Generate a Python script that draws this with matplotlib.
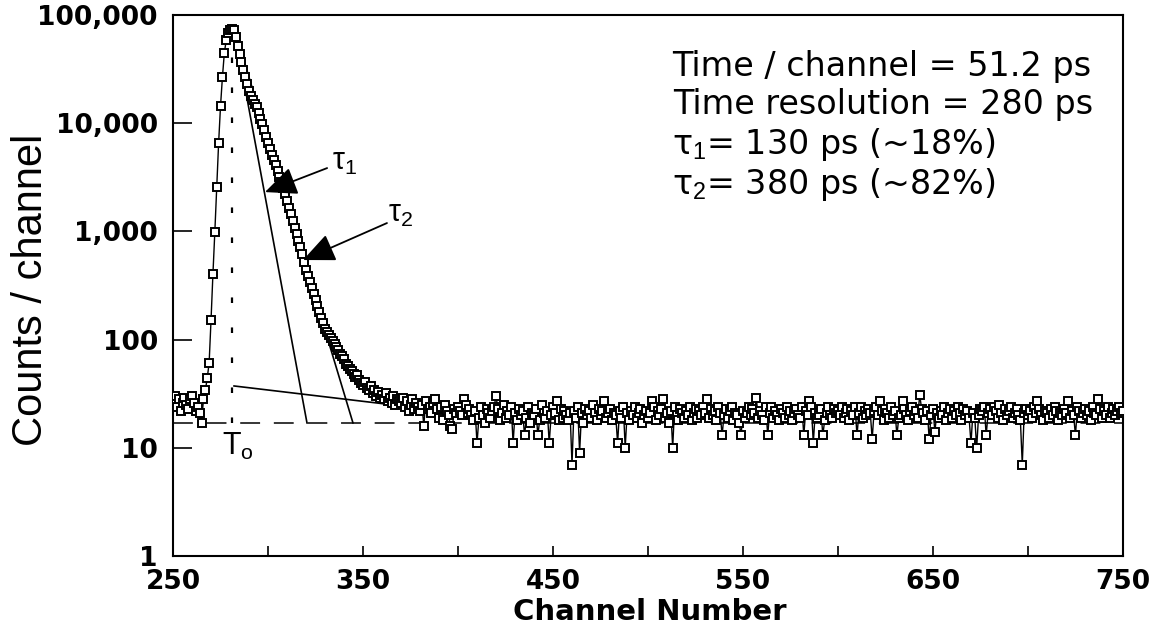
"""Positron lifetime spectrum: counts per channel vs channel number (log scale)"""
import numpy as np
import matplotlib
matplotlib.use('Agg')
import matplotlib.pyplot as plt

plt.rcParams['mathtext.fontset'] = 'custom'
plt.rcParams['mathtext.rm'] = 'Liberation Sans'
plt.rcParams['mathtext.it'] = 'Liberation Sans:italic'


#############################################
# DATA
#############################################

first_channel = 250
counts = [
    27, 30, 24, 28, 22, 26, 29, 25, 23, 28,                      # 250
    30, 26, 22, 24, 21, 17, 28, 34, 44, 61,                      # 260
    152, 405, 990, 2560, 6600, 14500, 26700, 44600, 58700, 68000,  # 270
    73000, 75000, 72000, 62000, 52000, 44000, 37000, 31000, 27000, 23000,  # 280
    20000, 18000, 16500, 15000, 14000, 12500, 11000, 9800, 8600, 7500,  # 290
    6600, 5800, 5100, 4600, 4100, 3600, 3200, 2850, 2500, 2200,  # 300
    1900, 1650, 1450, 1250, 1080, 940, 820, 720, 620, 520,       # 310
    440, 385, 340, 300, 265, 232, 205, 180, 160, 142,            # 320
    125, 118, 110, 104, 98, 92, 86, 80, 74, 70,                  # 330
    66, 60, 57, 54, 51, 48, 45, 47, 42, 40,                      # 340
    38, 41, 36, 34, 37, 32, 34, 30, 33, 29,                      # 350
    31, 28, 32, 27, 29, 26, 30, 25, 28, 27,                      # 360
    26, 29, 24, 27, 22, 25, 28, 23, 26, 24,                      # 370
    22, 25, 16, 27, 23, 24, 21, 26, 28, 23,                      # 380
    19, 24, 18, 25, 22, 20, 16, 15, 23, 21,                      # 390
    24, 22, 20, 28, 25, 21, 23, 20, 18, 22,                      # 400
    11, 19, 24, 20, 17, 23, 21, 19, 22, 24,                      # 410
    30, 23, 18, 21, 25, 19, 22, 20, 24, 11,                      # 420
    21, 18, 23, 20, 22, 13, 19, 24, 17, 21,                      # 430
    20, 23, 13, 18, 25, 21, 19, 22, 11, 20,                      # 440
    24, 21, 27, 18, 23, 19, 22, 20, 18, 21,                      # 450
    7, 22, 19, 24, 9, 21, 17, 23, 20, 22,                        # 460
    19, 25, 21, 18, 23, 20, 22, 27, 19, 21,                      # 470
    23, 18, 21, 20, 11, 22, 19, 24, 10, 21,                      # 480
    18, 22, 20, 24, 19, 21, 23, 17, 20, 22,                      # 490
    19, 21, 27, 24, 18, 22, 20, 23, 28, 19,                      # 500
    21, 17, 22, 10, 24, 20, 18, 23, 21, 19,                      # 510
    22, 20, 24, 18, 21, 23, 19, 22, 20, 24,                      # 520
    21, 28, 19, 23, 20, 22, 18, 24, 21, 13,                      # 530
    20, 23, 19, 22, 24, 18, 21, 20, 17, 13,                      # 540
    22, 19, 21, 24, 20, 23, 21, 29, 19, 22,                      # 550
    20, 18, 24, 13, 21, 24, 19, 22, 20, 18,                      # 560
    23, 21, 19, 24, 20, 22, 18, 21, 23, 20,                      # 570
    19, 24, 13, 22, 20, 27, 24, 11, 21, 19,                      # 580
    20, 23, 13, 18, 21, 24, 20, 19, 23, 21,                      # 590
    22, 20, 24, 19, 21, 23, 18, 22, 20, 24,                      # 600
    13, 21, 24, 19, 22, 20, 23, 21, 12, 22,                      # 610
    24, 20, 27, 22, 18, 23, 21, 19, 24, 20,                      # 620
    22, 13, 19, 20, 27, 23, 20, 18, 22, 24,                      # 630
    20, 22, 19, 31, 23, 21, 18, 22, 12, 20,                      # 640
    23, 14, 21, 19, 22, 20, 24, 18, 21, 23,                      # 650
    19, 22, 20, 24, 21, 18, 23, 20, 22, 19,                      # 660
    11, 21, 19, 10, 20, 23, 22, 24, 13, 21,                      # 670
    23, 20, 24, 22, 19, 25, 21, 18, 23, 20,                      # 680
    22, 24, 19, 21, 23, 20, 18, 7, 21, 23,                       # 690
    20, 22, 19, 24, 21, 27, 23, 20, 18, 22,                      # 700
    21, 19, 23, 20, 24, 22, 18, 21, 20, 23,                      # 710
    21, 27, 19, 22, 20, 13, 24, 22, 19, 21,                      # 720
    23, 20, 22, 18, 24, 21, 20, 28, 23, 19,                      # 730
    22, 20, 24, 19, 21, 23, 20, 22, 24, 21,                      # 740
    22,                                                          # 750
]
channels = np.arange(first_channel, first_channel + len(counts))

# hand-drawn fit lines (channel, counts) end points
tau1_line_x = [282.3, 320.5]
tau1_line_y = [72600, 17]
tau2_line_x = [282.5, 344.7]
tau2_line_y = [72600, 17]
tail_line_x = [282.1, 420]
tail_line_y = [37.3, 19.2]
baseline = 17
t0_channel = 281
t0_top = 70000

# arrows: (start, tip)
tau1_arrow = [(331.1, 3850), (298.4, 2310)]
tau2_arrow = [(362.6, 1195), (318.4, 544)]

xtick_major = [250, 350, 450, 550, 650, 750]
xtick_minor = [300, 400, 500, 600, 700]
ytick_vals = [1, 10, 100, 1000, 10000, 100000]
ytick_labels = ['1', '10', '100', '1,000', '10,000', '100,000']

info_lines = ['Time / channel = 51.2 ps',
              'Time resolution = 280 ps',
              'τ$_1$= 130 ps (~18%)',
              'τ$_2$= 380 ps (~82%)']


#############################################
# PLOT
#############################################

fig = plt.figure(figsize=(11.66, 6.34), dpi=100)
ax = fig.add_axes([0.1484, 0.1230, 0.8147, 0.8533])

ax.plot(tau1_line_x, tau1_line_y, color='k', lw=1.2, zorder=2)
ax.plot(tau2_line_x, tau2_line_y, color='k', lw=1.2, zorder=2)
ax.plot(tail_line_x, tail_line_y, color='k', lw=1.2, zorder=2)
ax.plot([first_channel, channels[-1]], [baseline, baseline], color='k', lw=1.1,
        linestyle=(0, (13, 9)), zorder=2)
ax.plot([t0_channel, t0_channel], [baseline, t0_top], color='k', lw=1.6,
        linestyle=(0, (2.5, 11)), zorder=2)

ax.plot(channels, counts, '-', color='k', lw=1.0, marker='s', ms=5.2,
        mfc='white', mec='k', mew=1.4, zorder=3)

for (start, tip) in [tau1_arrow, tau2_arrow]:
    ax.annotate('', xy=tip, xytext=start,
                arrowprops=dict(arrowstyle='-|>,head_length=0.9,head_width=0.4',
                                color='k', lw=1.3, shrinkA=0, shrinkB=0,
                                mutation_scale=22), zorder=4)

ax.text(333.7, 3690, 'τ$_1$', fontsize=22, family='Liberation Sans', ha='left', va='baseline')
ax.text(363.2, 1222, 'τ$_2$', fontsize=22, family='Liberation Sans', ha='left', va='baseline')
ax.text(275.8, 8.6, 'T$_\\mathrm{o}$', fontsize=22, family='Liberation Sans', ha='left', va='baseline')

ax.set_yscale('log')
ax.set_xlim(250, 750)
ax.set_ylim(1, 100000)

ax.set_xticks(xtick_major)
ax.set_xticklabels([str(v) for v in xtick_major])
ax.set_xticks(xtick_minor, minor=True)
ax.set_yticks(ytick_vals)
ax.set_yticklabels(ytick_labels)
ax.yaxis.set_minor_locator(matplotlib.ticker.NullLocator())

ax.tick_params(axis='x', which='both', direction='in', length=7, width=1.2, pad=9,
               labelsize=19)
ax.tick_params(axis='y', which='major', direction='in', length=13.5, width=1.2, pad=11,
               labelsize=19)
for lab in ax.get_xticklabels() + ax.get_yticklabels():
    lab.set_family('DejaVu Sans')
    lab.set_fontweight('bold')
for sp in ax.spines.values():
    sp.set_linewidth(1.5)

fig.text(0.027, 0.543, 'Counts / channel', rotation=90, fontsize=30,
         family='Liberation Sans', ha='center', va='center')
fig.text(0.557, 0.035, 'Channel Number', fontsize=21, family='DejaVu Sans',
         fontweight='bold', ha='center', va='center')

ax.text(0.746, 0.904, info_lines[0], transform=ax.transAxes, fontsize=24,
        family='DejaVu Sans', ha='center', va='center')
ax.text(0.748, 0.834, info_lines[1], transform=ax.transAxes, fontsize=24,
        family='DejaVu Sans', ha='center', va='center')
ax.text(0.525, 0.760, info_lines[2], transform=ax.transAxes, fontsize=24,
        family='DejaVu Sans', ha='left', va='center')
ax.text(0.525, 0.686, info_lines[3], transform=ax.transAxes, fontsize=24,
        family='DejaVu Sans', ha='left', va='center')

fig.savefig('out.png', dpi=100)
